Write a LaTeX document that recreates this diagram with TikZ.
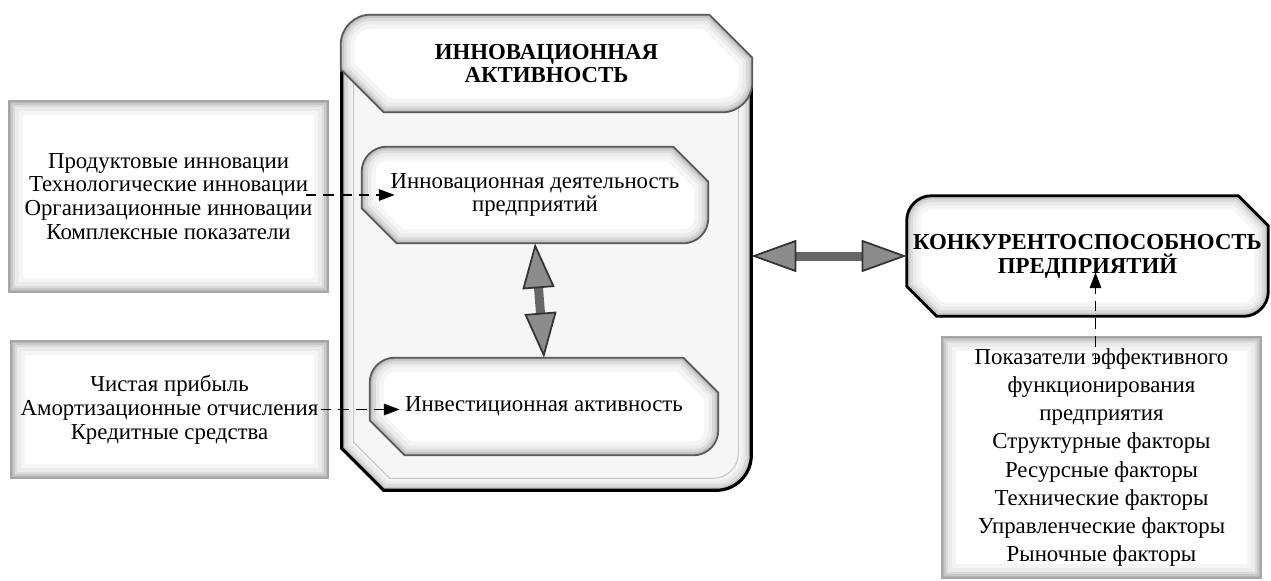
\documentclass[tikz,border=0pt]{standalone}
\usepackage{fontspec}
\setmainfont{Liberation Serif}
\usetikzlibrary{arrows.meta,positioning,backgrounds}

% outline of a box with two rounded and two cut corners
\newcommand{\tagpath}[3]{([xshift=#3]#1.north west) -- ([xshift=-#2]#1.north east) -- ([yshift=-#2]#1.north east) -- ([yshift=#3]#1.south east) .. controls ([yshift=0.448*#3]#1.south east) and ([xshift=-0.448*#3]#1.south east) .. ([xshift=-#3]#1.south east) -- ([xshift=#2]#1.south west) -- ([yshift=#2]#1.south west) -- ([yshift=-#3]#1.north west) .. controls ([yshift=-0.448*#3]#1.north west) and ([xshift=0.448*#3]#1.north west) .. ([xshift=#3]#1.north west) -- cycle}

% the same outline, filled, with an inner shadow
\newcommand{\shadedtag}[4]{%
  \fill[white] \tagpath{#1}{#2}{#3};
  \begin{scope}
    \clip \tagpath{#1}{#2}{#3};
    \foreach \w/\s in {16/8,11/16,7/28,4/42,2/55}
      \draw[line width=\w pt, gray!\s] \tagpath{#1}{#2}{#3};
  \end{scope}
  \draw[#4] \tagpath{#1}{#2}{#3};}

\begin{document}
\begin{tikzpicture}[
    x=0.02cm, y=-0.02cm,
    every node/.style={font=\fontsize{13}{13.6}\selectfont},
    tagbox/.style={inner sep=0pt, align=center},
    headfont/.style={font=\fontsize{13}{13.6}\selectfont\bfseries},
    listbox/.style={draw=gray!70, line width=1pt, fill=white, inner sep=0pt, align=center,
        path picture={\foreach \w/\s in {16/8,11/16,7/28,4/42,2/55}
            \draw[line width=\w pt, gray!\s] (path picture bounding box.south west) rectangle (path picture bounding box.north east);}},
    dasharrow/.style={-{Triangle[length=9pt,width=6.5pt]}, dash pattern=on 6pt off 4pt, line width=1pt},
    bigarrow/.style={{Triangle[length=0.9cm,width=0.64cm,color=gray!40!black,fill=gray!90,line width=1pt]}-{Triangle[length=0.9cm,width=0.64cm,color=gray!40!black,fill=gray!90,line width=1pt]},
        line width=0.18cm, draw=gray!80!black}
]
\useasboundingbox (0,0) rectangle (1271,581);

\node[listbox, minimum width=6.38cm, minimum height=3.82cm] (prod) at (168.5,196.5) {Продуктовые инновации\\Технологические инновации\\Организационные инновации\\Комплексные показатели};
\node[listbox, minimum width=6.34cm, minimum height=2.74cm] (fin) at (169.5,409.5) {Чистая прибыль\\Амортизационные отчисления\\Кредитные средства};
\node[listbox, font=\fontsize{13}{16}\selectfont, minimum width=6.38cm, minimum height=4.82cm] (fact) at (1101.5,457.5) {Показатели эффективного\\функционирования\\предприятия\\Структурные факторы\\Ресурсные факторы\\Технические факторы\\Управленческие факторы\\Рыночные факторы};

\node[tagbox, minimum width=8.18cm, minimum height=9cm] (body) at (546.5,265) {};
\node[tagbox, minimum width=7.68cm, minimum height=8.56cm] (panel) at (546,264) {};
\node[tagbox, headfont, minimum width=8.22cm, minimum height=1.94cm] (act) at (546.5,63.5) {ИННОВАЦИОННАЯ\\АКТИВНОСТЬ};
\node[tagbox, minimum width=6.92cm, minimum height=1.92cm] (innov) at (535,195) {Инновационная деятельность\\предприятий};
\node[tagbox, minimum width=6.96cm, minimum height=1.94cm] (invest) at (544,406.5) {Инвестиционная активность};
\node[tagbox, headfont, minimum width=7.22cm, minimum height=2.4cm] (comp) at (1087.5,256) {КОНКУРЕНТОСПОСОБНОСТЬ\\ПРЕДПРИЯТИЙ};

\begin{scope}[on background layer]
  \shadedtag{body}{0.84cm}{0.7cm}{black, line width=1.8pt}
  \fill[gray!7] \tagpath{panel}{0.72cm}{0.5cm};
  \draw[gray!45, line width=0.6pt] \tagpath{panel}{0.72cm}{0.5cm};
  \shadedtag{act}{0.86cm}{0.6cm}{gray!70!black, line width=1pt}
  \shadedtag{innov}{0.7cm}{0.5cm}{gray!70!black, line width=1pt}
  \shadedtag{invest}{0.7cm}{0.5cm}{gray!70!black, line width=1pt}
  \shadedtag{comp}{0.6cm}{0.5cm}{black, line width=1.6pt}
\end{scope}

\draw[bigarrow] (innov.south) -- (invest.north);
\draw[bigarrow] (body.east |- comp.west) -- (comp.west);
\draw[dasharrow] ([xshift=-0.46cm]prod.east |- innov.west) -- ([xshift=0.66cm]innov.west);
\draw[dasharrow] ([xshift=-0.16cm]fin.east) -- ([xshift=0.6cm]invest.west |- fin.east);
\draw[dasharrow] ([xshift=-0.12cm,yshift=-0.56cm]fact.north) -- ([xshift=-0.12cm,yshift=0.88cm]fact.north |- comp.south);

\end{tikzpicture}
\end{document}
